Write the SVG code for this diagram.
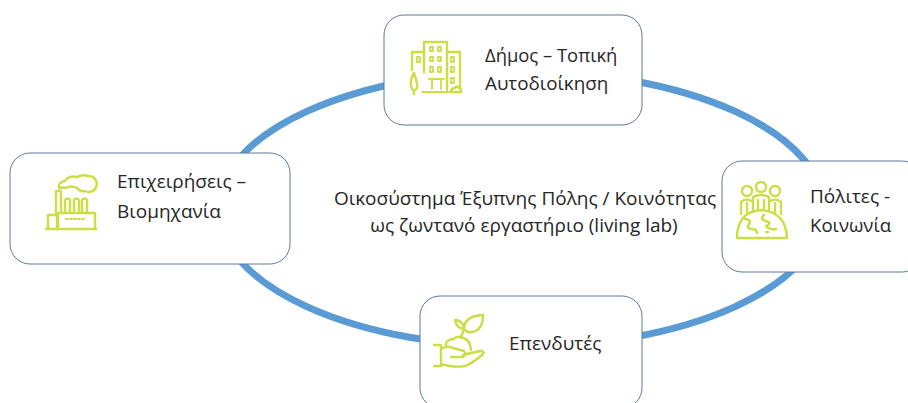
<svg xmlns="http://www.w3.org/2000/svg" width="908" height="403" viewBox="0 0 908 403">
<style>
.box{fill:#fff;stroke:#5d7a9c;stroke-width:1}
.ic{fill:none;stroke:#cbde45;stroke-width:2.4;stroke-linecap:round;stroke-linejoin:round}
.th{stroke-width:1.8}
text{font-family:"Open Sans","Noto Sans","Liberation Sans",sans-serif;font-size:19px;fill:#262626}
</style>
<rect width="908" height="403" fill="#fff"/>
<g id="connectors"><ellipse cx="521" cy="209" rx="303" ry="138" fill="none" stroke="#5b9bd5" stroke-width="7"/></g>
<g id="node-dimos">
<rect class="box" x="384" y="15" width="258" height="110" rx="20"/>
<path class="ic" d="M424 72V42H447V90M424 52H412V70M447 52H460V88"/>
<path class="ic th" d="M430 47h3v4h-3zM438 47h3v4h-3zM430 57h3v4h-3zM438 57h3v4h-3zM430 67h3v5h-3zM438 67h3v5h-3zM417 57h3v5h-3zM451 57h3v5h-3zM451 67h3v5h-3zM451 78h3v5h-3zM429 79h15M432 79v10M441 79v10M422 92H449"/>
<path class="ic" d="M414 73q-4 6-3 12t3 5q4 0 3-6t-3-11zM414 90v4M451 92q0-4 4-4 2-3 4 0 3 1 2 4z"/>
<text x="485" y="62" style="font-size:18.4px">Δήμος – Τοπική</text><text x="485" y="90" style="font-size:18.8px">Αυτοδιοίκηση</text>
</g>
<g id="node-epixeiriseis">
<rect class="box" x="10" y="153" width="280" height="111" rx="20"/>
<path class="ic" d="M46 229H96M48 229V215H57V229M58 229V213H95V229M56 213V191H61V213M65 213V200q2.500-3 5 0V213M74 213V200q2.500-3 5 0V213M82 213V200q2.500-3 5 0V213"/>
<path class="ic" d="M59 188q-1-6 6-7 4-6 12-4 5-3 11-1a8 8 0 1 1-3 15q-5 1-8-3-6-3-11 0-4-1-7 0"/>
<path class="ic th" d="M66 219H86" stroke-dasharray="2 2"/>
<text x="117" y="188">Επιχειρήσεις –</text><text x="117" y="218">Βιομηχανία</text>
</g>
<g id="node-polites">
<rect class="box" x="722" y="161" width="200" height="111" rx="20"/>
<circle class="ic" cx="747" cy="191" r="5"/><circle class="ic" cx="761" cy="187" r="5"/><circle class="ic" cx="775" cy="191" r="5"/>
<path class="ic" d="M741 214V202q6-5 12 0M753 211V197q8-4 16 0V211M769 202q6-5 12 0V214M747 203V212M758 200V209M764 200V209M775 203V212"/>
<path class="ic" d="M737 238Q737 212 761 210 786 212 787 238ZM745 219q7 1 4 5t2 5q6 0 6 4M764 215q-5 4 2 6t0 5q3 4 10 3M766 232h2"/>
<text x="810" y="203">Πόλιτες -</text><text x="810" y="232" style="font-size:18.6px">Κοινωνία</text>
</g>
<g id="node-ependytes">
<rect class="box" x="420" y="296" width="222" height="112" rx="20"/>
<path class="ic" d="M434 345H441V366H434M441 349q6-4 12-1l11 3q3 3-1 6H451M463 355l17-4q5 0 3 3-10 9-18 12-9 2-24-2"/>
<path class="ic" d="M446 346q-1-6 7-7 5-4 10-1 7 1 8 12M461 338Q463 332 464 329M464 329q-8-1-9-9 8 0 9 9zM464 329q0-13 19-14 0 15-11 17-5 1-8-3z"/>
<text x="509" y="350">Επενδυτές</text>
</g>
<g id="center">
<text x="525" y="205" text-anchor="middle">Οικοσύστημα Έξυπνης Πόλης / Κοινότητας</text>
<text x="524" y="232" text-anchor="middle">ως ζωντανό εργαστήριο (living lab)</text>
</g>
</svg>
